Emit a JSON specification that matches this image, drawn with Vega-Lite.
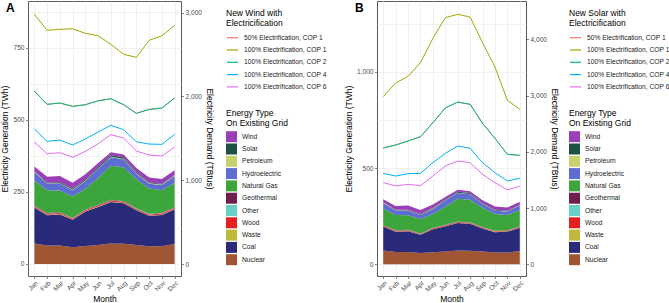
{
  "$schema": "https://vega.github.io/schema/vega-lite/v6.json",
  "padding": 0,
  "background": "white",
  "config": {
    "font": "Liberation Sans",
    "view": {"stroke": "#5a5a5a", "strokeWidth": 1},
    "axis": {
      "labelFont": "Liberation Sans", "labelFontSize": 6.6, "labelColor": "#4D4D4D",
      "titleFont": "Liberation Sans", "titleFontSize": 8.5, "titleFontWeight": "normal", "titleColor": "#000",
      "tickColor": "#333", "tickSize": 2.5, "tickWidth": 0.6, "domain": false,
      "gridColor": "#EBEBEB", "gridWidth": 0.7, "labelPadding": 1.5, "titlePadding": 3
    },
    "legend": {
      "labelFont": "Liberation Sans", "labelFontSize": 6.7, "labelColor": "#1a1a1a", "labelOffset": 5,
      "titleFont": "Liberation Sans", "titleFontSize": 8.5, "titleFontWeight": "normal", "titleColor": "#000",
      "titleLineHeight": 9.7, "titlePadding": 4, "rowPadding": 1.3, "symbolSize": 121
    },
    "concat": {"spacing": 15}
  },
  "datasets": {
    "grid": [
      {"month":"Jan","type":"Nuclear","twh":71},{"month":"Jan","type":"Coal","twh":125},{"month":"Jan","type":"Waste","twh":1.5},{"month":"Jan","type":"Wood","twh":3.5},{"month":"Jan","type":"Other","twh":1},{"month":"Jan","type":"Geothermal","twh":1.5},{"month":"Jan","type":"Natural Gas","twh":86.5},{"month":"Jan","type":"Hydroelectric","twh":29},{"month":"Jan","type":"Petroleum","twh":2},{"month":"Jan","type":"Solar","twh":2},{"month":"Jan","type":"Wind","twh":15},
      {"month":"Feb","type":"Nuclear","twh":64},{"month":"Feb","type":"Coal","twh":105},{"month":"Feb","type":"Waste","twh":1.5},{"month":"Feb","type":"Wood","twh":3.5},{"month":"Feb","type":"Other","twh":1},{"month":"Feb","type":"Geothermal","twh":1.5},{"month":"Feb","type":"Natural Gas","twh":79.5},{"month":"Feb","type":"Hydroelectric","twh":23},{"month":"Feb","type":"Petroleum","twh":1.5},{"month":"Feb","type":"Solar","twh":2.5},{"month":"Feb","type":"Wind","twh":20},
      {"month":"Mar","type":"Nuclear","twh":64},{"month":"Mar","type":"Coal","twh":108},{"month":"Mar","type":"Waste","twh":1.5},{"month":"Mar","type":"Wood","twh":3.5},{"month":"Mar","type":"Other","twh":1},{"month":"Mar","type":"Geothermal","twh":1.5},{"month":"Mar","type":"Natural Gas","twh":75.5},{"month":"Mar","type":"Hydroelectric","twh":24},{"month":"Mar","type":"Petroleum","twh":1.5},{"month":"Mar","type":"Solar","twh":3.5},{"month":"Mar","type":"Wind","twh":21},
      {"month":"Apr","type":"Nuclear","twh":58},{"month":"Apr","type":"Coal","twh":95},{"month":"Apr","type":"Waste","twh":1.5},{"month":"Apr","type":"Wood","twh":3.5},{"month":"Apr","type":"Other","twh":1},{"month":"Apr","type":"Geothermal","twh":1.5},{"month":"Apr","type":"Natural Gas","twh":73.5},{"month":"Apr","type":"Hydroelectric","twh":22.5},{"month":"Apr","type":"Petroleum","twh":1.5},{"month":"Apr","type":"Solar","twh":4},{"month":"Apr","type":"Wind","twh":20},
      {"month":"May","type":"Nuclear","twh":62},{"month":"May","type":"Coal","twh":120},{"month":"May","type":"Waste","twh":1.5},{"month":"May","type":"Wood","twh":3.5},{"month":"May","type":"Other","twh":1},{"month":"May","type":"Geothermal","twh":1.5},{"month":"May","type":"Natural Gas","twh":71.5},{"month":"May","type":"Hydroelectric","twh":27},{"month":"May","type":"Petroleum","twh":1.5},{"month":"May","type":"Solar","twh":4.5},{"month":"May","type":"Wind","twh":17},
      {"month":"Jun","type":"Nuclear","twh":66},{"month":"Jun","type":"Coal","twh":132},{"month":"Jun","type":"Waste","twh":1.5},{"month":"Jun","type":"Wood","twh":3.5},{"month":"Jun","type":"Other","twh":1},{"month":"Jun","type":"Geothermal","twh":1.5},{"month":"Jun","type":"Natural Gas","twh":93.5},{"month":"Jun","type":"Hydroelectric","twh":32},{"month":"Jun","type":"Petroleum","twh":1.5},{"month":"Jun","type":"Solar","twh":4.5},{"month":"Jun","type":"Wind","twh":13},
      {"month":"Jul","type":"Nuclear","twh":71},{"month":"Jul","type":"Coal","twh":144},{"month":"Jul","type":"Waste","twh":1.5},{"month":"Jul","type":"Wood","twh":3.5},{"month":"Jul","type":"Other","twh":1},{"month":"Jul","type":"Geothermal","twh":1.5},{"month":"Jul","type":"Natural Gas","twh":118.5},{"month":"Jul","type":"Hydroelectric","twh":29.5},{"month":"Jul","type":"Petroleum","twh":2},{"month":"Jul","type":"Solar","twh":4.5},{"month":"Jul","type":"Wind","twh":11},
      {"month":"Aug","type":"Nuclear","twh":70},{"month":"Aug","type":"Coal","twh":141},{"month":"Aug","type":"Waste","twh":1.5},{"month":"Aug","type":"Wood","twh":3.5},{"month":"Aug","type":"Other","twh":1},{"month":"Aug","type":"Geothermal","twh":1.5},{"month":"Aug","type":"Natural Gas","twh":117.5},{"month":"Aug","type":"Hydroelectric","twh":27.5},{"month":"Aug","type":"Petroleum","twh":2},{"month":"Aug","type":"Solar","twh":4.5},{"month":"Aug","type":"Wind","twh":10},
      {"month":"Sep","type":"Nuclear","twh":66},{"month":"Sep","type":"Coal","twh":120},{"month":"Sep","type":"Waste","twh":1.5},{"month":"Sep","type":"Wood","twh":3.5},{"month":"Sep","type":"Other","twh":1},{"month":"Sep","type":"Geothermal","twh":1.5},{"month":"Sep","type":"Natural Gas","twh":100.5},{"month":"Sep","type":"Hydroelectric","twh":19.5},{"month":"Sep","type":"Petroleum","twh":1.5},{"month":"Sep","type":"Solar","twh":4},{"month":"Sep","type":"Wind","twh":14},
      {"month":"Oct","type":"Nuclear","twh":61},{"month":"Oct","type":"Coal","twh":106},{"month":"Oct","type":"Waste","twh":1.5},{"month":"Oct","type":"Wood","twh":3.5},{"month":"Oct","type":"Other","twh":1},{"month":"Oct","type":"Geothermal","twh":1.5},{"month":"Oct","type":"Natural Gas","twh":87.5},{"month":"Oct","type":"Hydroelectric","twh":16.5},{"month":"Oct","type":"Petroleum","twh":1.5},{"month":"Oct","type":"Solar","twh":3},{"month":"Oct","type":"Wind","twh":17},
      {"month":"Nov","type":"Nuclear","twh":61},{"month":"Nov","type":"Coal","twh":109},{"month":"Nov","type":"Waste","twh":1.5},{"month":"Nov","type":"Wood","twh":3.5},{"month":"Nov","type":"Other","twh":1},{"month":"Nov","type":"Geothermal","twh":1.5},{"month":"Nov","type":"Natural Gas","twh":78.5},{"month":"Nov","type":"Hydroelectric","twh":18},{"month":"Nov","type":"Petroleum","twh":1.5},{"month":"Nov","type":"Solar","twh":2.5},{"month":"Nov","type":"Wind","twh":17},
      {"month":"Dec","type":"Nuclear","twh":69},{"month":"Dec","type":"Coal","twh":121},{"month":"Dec","type":"Waste","twh":1.5},{"month":"Dec","type":"Wood","twh":3.5},{"month":"Dec","type":"Other","twh":1},{"month":"Dec","type":"Geothermal","twh":1.5},{"month":"Dec","type":"Natural Gas","twh":84.5},{"month":"Dec","type":"Hydroelectric","twh":23},{"month":"Dec","type":"Petroleum","twh":2},{"month":"Dec","type":"Solar","twh":2},{"month":"Dec","type":"Wind","twh":16}
    ],
    "wind": [
      {"month":"Jan","scenario":"50% Electrification, COP 1","tbtu":2065},{"month":"Feb","scenario":"50% Electrification, COP 1","tbtu":1906},{"month":"Mar","scenario":"50% Electrification, COP 1","tbtu":1922},{"month":"Apr","scenario":"50% Electrification, COP 1","tbtu":1882},{"month":"May","scenario":"50% Electrification, COP 1","tbtu":1902},{"month":"Jun","scenario":"50% Electrification, COP 1","tbtu":1949},{"month":"Jul","scenario":"50% Electrification, COP 1","tbtu":1973},{"month":"Aug","scenario":"50% Electrification, COP 1","tbtu":1902},{"month":"Sep","scenario":"50% Electrification, COP 1","tbtu":1799},{"month":"Oct","scenario":"50% Electrification, COP 1","tbtu":1846},{"month":"Nov","scenario":"50% Electrification, COP 1","tbtu":1862},{"month":"Dec","scenario":"50% Electrification, COP 1","tbtu":1982},
      {"month":"Jan","scenario":"100% Electrification, COP 1","tbtu":2981},{"month":"Feb","scenario":"100% Electrification, COP 1","tbtu":2790},{"month":"Mar","scenario":"100% Electrification, COP 1","tbtu":2802},{"month":"Apr","scenario":"100% Electrification, COP 1","tbtu":2809},{"month":"May","scenario":"100% Electrification, COP 1","tbtu":2754},{"month":"Jun","scenario":"100% Electrification, COP 1","tbtu":2725},{"month":"Jul","scenario":"100% Electrification, COP 1","tbtu":2622},{"month":"Aug","scenario":"100% Electrification, COP 1","tbtu":2503},{"month":"Sep","scenario":"100% Electrification, COP 1","tbtu":2467},{"month":"Oct","scenario":"100% Electrification, COP 1","tbtu":2670},{"month":"Nov","scenario":"100% Electrification, COP 1","tbtu":2725},{"month":"Dec","scenario":"100% Electrification, COP 1","tbtu":2849},
      {"month":"Jan","scenario":"100% Electrification, COP 2","tbtu":2065},{"month":"Feb","scenario":"100% Electrification, COP 2","tbtu":1906},{"month":"Mar","scenario":"100% Electrification, COP 2","tbtu":1922},{"month":"Apr","scenario":"100% Electrification, COP 2","tbtu":1882},{"month":"May","scenario":"100% Electrification, COP 2","tbtu":1902},{"month":"Jun","scenario":"100% Electrification, COP 2","tbtu":1949},{"month":"Jul","scenario":"100% Electrification, COP 2","tbtu":1973},{"month":"Aug","scenario":"100% Electrification, COP 2","tbtu":1902},{"month":"Sep","scenario":"100% Electrification, COP 2","tbtu":1799},{"month":"Oct","scenario":"100% Electrification, COP 2","tbtu":1846},{"month":"Nov","scenario":"100% Electrification, COP 2","tbtu":1862},{"month":"Dec","scenario":"100% Electrification, COP 2","tbtu":1982},
      {"month":"Jan","scenario":"100% Electrification, COP 4","tbtu":1612},{"month":"Feb","scenario":"100% Electrification, COP 4","tbtu":1465},{"month":"Mar","scenario":"100% Electrification, COP 4","tbtu":1480},{"month":"Apr","scenario":"100% Electrification, COP 4","tbtu":1421},{"month":"May","scenario":"100% Electrification, COP 4","tbtu":1492},{"month":"Jun","scenario":"100% Electrification, COP 4","tbtu":1576},{"month":"Jul","scenario":"100% Electrification, COP 4","tbtu":1656},{"month":"Aug","scenario":"100% Electrification, COP 4","tbtu":1603},{"month":"Sep","scenario":"100% Electrification, COP 4","tbtu":1460},{"month":"Oct","scenario":"100% Electrification, COP 4","tbtu":1432},{"month":"Nov","scenario":"100% Electrification, COP 4","tbtu":1429},{"month":"Dec","scenario":"100% Electrification, COP 4","tbtu":1548},
      {"month":"Jan","scenario":"100% Electrification, COP 6","tbtu":1456},{"month":"Feb","scenario":"100% Electrification, COP 6","tbtu":1317},{"month":"Mar","scenario":"100% Electrification, COP 6","tbtu":1329},{"month":"Apr","scenario":"100% Electrification, COP 6","tbtu":1274},{"month":"May","scenario":"100% Electrification, COP 6","tbtu":1345},{"month":"Jun","scenario":"100% Electrification, COP 6","tbtu":1436},{"month":"Jul","scenario":"100% Electrification, COP 6","tbtu":1544},{"month":"Aug","scenario":"100% Electrification, COP 6","tbtu":1504},{"month":"Sep","scenario":"100% Electrification, COP 6","tbtu":1349},{"month":"Oct","scenario":"100% Electrification, COP 6","tbtu":1301},{"month":"Nov","scenario":"100% Electrification, COP 6","tbtu":1289},{"month":"Dec","scenario":"100% Electrification, COP 6","tbtu":1397}
    ],
    "solar": [
      {"month":"Jan","scenario":"50% Electrification, COP 1","tbtu":2069},{"month":"Feb","scenario":"50% Electrification, COP 1","tbtu":2121},{"month":"Mar","scenario":"50% Electrification, COP 1","tbtu":2192},{"month":"Apr","scenario":"50% Electrification, COP 1","tbtu":2268},{"month":"May","scenario":"50% Electrification, COP 1","tbtu":2517},{"month":"Jun","scenario":"50% Electrification, COP 1","tbtu":2779},{"month":"Jul","scenario":"50% Electrification, COP 1","tbtu":2885},{"month":"Aug","scenario":"50% Electrification, COP 1","tbtu":2844},{"month":"Sep","scenario":"50% Electrification, COP 1","tbtu":2506},{"month":"Oct","scenario":"50% Electrification, COP 1","tbtu":2240},{"month":"Nov","scenario":"50% Electrification, COP 1","tbtu":1955},{"month":"Dec","scenario":"50% Electrification, COP 1","tbtu":1937},
      {"month":"Jan","scenario":"100% Electrification, COP 1","tbtu":2981},{"month":"Feb","scenario":"100% Electrification, COP 1","tbtu":3223},{"month":"Mar","scenario":"100% Electrification, COP 1","tbtu":3342},{"month":"Apr","scenario":"100% Electrification, COP 1","tbtu":3584},{"month":"May","scenario":"100% Electrification, COP 1","tbtu":4018},{"month":"Jun","scenario":"100% Electrification, COP 1","tbtu":4384},{"month":"Jul","scenario":"100% Electrification, COP 1","tbtu":4444},{"month":"Aug","scenario":"100% Electrification, COP 1","tbtu":4396},{"month":"Sep","scenario":"100% Electrification, COP 1","tbtu":3940},{"month":"Oct","scenario":"100% Electrification, COP 1","tbtu":3508},{"month":"Nov","scenario":"100% Electrification, COP 1","tbtu":2915},{"month":"Dec","scenario":"100% Electrification, COP 1","tbtu":2755},
      {"month":"Jan","scenario":"100% Electrification, COP 2","tbtu":2069},{"month":"Feb","scenario":"100% Electrification, COP 2","tbtu":2121},{"month":"Mar","scenario":"100% Electrification, COP 2","tbtu":2192},{"month":"Apr","scenario":"100% Electrification, COP 2","tbtu":2268},{"month":"May","scenario":"100% Electrification, COP 2","tbtu":2517},{"month":"Jun","scenario":"100% Electrification, COP 2","tbtu":2779},{"month":"Jul","scenario":"100% Electrification, COP 2","tbtu":2885},{"month":"Aug","scenario":"100% Electrification, COP 2","tbtu":2844},{"month":"Sep","scenario":"100% Electrification, COP 2","tbtu":2506},{"month":"Oct","scenario":"100% Electrification, COP 2","tbtu":2240},{"month":"Nov","scenario":"100% Electrification, COP 2","tbtu":1955},{"month":"Dec","scenario":"100% Electrification, COP 2","tbtu":1937},
      {"month":"Jan","scenario":"100% Electrification, COP 4","tbtu":1615},{"month":"Feb","scenario":"100% Electrification, COP 4","tbtu":1570},{"month":"Mar","scenario":"100% Electrification, COP 4","tbtu":1611},{"month":"Apr","scenario":"100% Electrification, COP 4","tbtu":1618},{"month":"May","scenario":"100% Electrification, COP 4","tbtu":1807},{"month":"Jun","scenario":"100% Electrification, COP 4","tbtu":1973},{"month":"Jul","scenario":"100% Electrification, COP 4","tbtu":2103},{"month":"Aug","scenario":"100% Electrification, COP 4","tbtu":2062},{"month":"Sep","scenario":"100% Electrification, COP 4","tbtu":1807},{"month":"Oct","scenario":"100% Electrification, COP 4","tbtu":1629},{"month":"Nov","scenario":"100% Electrification, COP 4","tbtu":1481},{"month":"Dec","scenario":"100% Electrification, COP 4","tbtu":1529},
      {"month":"Jan","scenario":"100% Electrification, COP 6","tbtu":1453},{"month":"Feb","scenario":"100% Electrification, COP 6","tbtu":1392},{"month":"Mar","scenario":"100% Electrification, COP 6","tbtu":1422},{"month":"Apr","scenario":"100% Electrification, COP 6","tbtu":1398},{"month":"May","scenario":"100% Electrification, COP 6","tbtu":1570},{"month":"Jun","scenario":"100% Electrification, COP 6","tbtu":1748},{"month":"Jul","scenario":"100% Electrification, COP 6","tbtu":1836},{"month":"Aug","scenario":"100% Electrification, COP 6","tbtu":1807},{"month":"Sep","scenario":"100% Electrification, COP 6","tbtu":1600},{"month":"Oct","scenario":"100% Electrification, COP 6","tbtu":1451},{"month":"Nov","scenario":"100% Electrification, COP 6","tbtu":1321},{"month":"Dec","scenario":"100% Electrification, COP 6","tbtu":1392}
    ]
  },
  "hconcat": [
    {
      "width": 153, "height": 275,
      "title": {"text": "A", "anchor": "start", "frame": "group", "offset": 0, "dx": -22, "dy": 14, "fontSize": 12, "fontWeight": "bold", "font": "Liberation Sans", "color": "#000"},
      "layer": [
        {
          "data": {"name": "grid"},
          "transform": [{"calculate": "indexof(['Nuclear','Coal','Waste','Wood','Other','Geothermal','Natural Gas','Hydroelectric','Petroleum','Solar','Wind'], datum.type)", "as": "stackOrder"}],
          "mark": {"type": "area"},
          "encoding": {
            "x": {"field": "month", "type": "ordinal", "sort": ["Jan","Feb","Mar","Apr","May","Jun","Jul","Aug","Sep","Oct","Nov","Dec"], "scale": {"type": "point", "padding": 0.5}, "axis": {"title": "Month", "grid": true, "labelAngle": -45, "labelAlign": "right", "labelBaseline": "top", "labelPadding": 1, "titlePadding": 2}},
            "y": {"field": "twh", "type": "quantitative", "stack": "zero", "scale": {"domain": [-42, 913], "nice": false, "zero": false}, "axis": {"title": "Electricity Generation (TWh)", "values": [0,125,250,375,500,625,750,875], "labelExpr": "datum.value % 250 === 0 ? format(datum.value, ',') : ''", "tickOpacity": {"condition": {"test": "datum.value % 250 !== 0", "value": 0}, "value": 1}, "grid": true}},
            "fill": {"field": "type", "type": "nominal", "scale": {"domain": ["Wind","Solar","Petroleum","Hydroelectric","Natural Gas","Geothermal","Other","Wood","Waste","Coal","Nuclear"], "range": ["#9B3FB8","#1C5244","#C9D16E","#5E6DD2","#3CA63C","#6E1F4E","#67CFC5","#E31F1F","#BEB83B","#2A2A7A","#A05535"]}, "legend": {"title": ["Energy Type", "On Existing Grid"], "orient": "none", "legendX": 198, "legendY": 108, "symbolType": "square", "symbolStrokeWidth": 0}},
            "order": {"field": "stackOrder", "type": "quantitative"}
          }
        },
        {
          "data": {"name": "wind"},
          "mark": {"type": "line", "strokeWidth": 1},
          "encoding": {
            "x": {"field": "month", "type": "ordinal", "sort": ["Jan","Feb","Mar","Apr","May","Jun","Jul","Aug","Sep","Oct","Nov","Dec"], "scale": {"type": "point", "padding": 0.5}, "axis": {"title": "Month", "grid": true, "labelAngle": -45, "labelAlign": "right", "labelBaseline": "top", "labelPadding": 1, "titlePadding": 2}},
            "y": {"field": "tbtu", "type": "quantitative", "scale": {"domain": [-143, 3140], "nice": false, "zero": false}, "axis": {"orient": "right", "title": "Electricity Demand (TBtus)", "values": [0,1000,2000,3000], "labelExpr": "format(datum.value, ',')", "grid": false}},
            "color": {"field": "scenario", "type": "nominal", "sort": null, "scale": {"domain": ["50% Electrification, COP 1","100% Electrification, COP 1","100% Electrification, COP 2","100% Electrification, COP 4","100% Electrification, COP 6"], "range": ["#F8766D","#A3A500","#00BF7D","#00B0F6","#E76BF3"]}, "legend": {"title": ["New Wind with", "Electricification"], "orient": "none", "legendX": 198, "legendY": 8, "symbolType": "stroke", "symbolStrokeWidth": 1.2}}
          }
        }
      ],
      "resolve": {"scale": {"y": "independent"}}
    },
    {
      "width": 149, "height": 275,
      "title": {"text": "B", "anchor": "start", "frame": "group", "offset": 0, "dx": -22, "dy": 14, "fontSize": 12, "fontWeight": "bold", "font": "Liberation Sans", "color": "#000"},
      "layer": [
        {
          "data": {"name": "grid"},
          "transform": [{"calculate": "indexof(['Nuclear','Coal','Waste','Wood','Other','Geothermal','Natural Gas','Hydroelectric','Petroleum','Solar','Wind'], datum.type)", "as": "stackOrder"}],
          "mark": {"type": "area"},
          "encoding": {
            "x": {"field": "month", "type": "ordinal", "sort": ["Jan","Feb","Mar","Apr","May","Jun","Jul","Aug","Sep","Oct","Nov","Dec"], "scale": {"type": "point", "padding": 0.5}, "axis": {"title": "Month", "grid": true, "labelAngle": -45, "labelAlign": "right", "labelBaseline": "top", "labelPadding": 1, "titlePadding": 2}},
            "y": {"field": "twh", "type": "quantitative", "stack": "zero", "scale": {"domain": [-61, 1369], "nice": false, "zero": false}, "axis": {"title": "Electricity Generation (TWh)", "values": [0,250,500,750,1000,1250], "labelExpr": "datum.value % 500 === 0 ? format(datum.value, ',') : ''", "tickOpacity": {"condition": {"test": "datum.value % 500 !== 0", "value": 0}, "value": 1}, "grid": true}},
            "fill": {"field": "type", "type": "nominal", "scale": {"domain": ["Wind","Solar","Petroleum","Hydroelectric","Natural Gas","Geothermal","Other","Wood","Waste","Coal","Nuclear"], "range": ["#9B3FB8","#1C5244","#C9D16E","#5E6DD2","#3CA63C","#6E1F4E","#67CFC5","#E31F1F","#BEB83B","#2A2A7A","#A05535"]}, "legend": {"title": ["Energy Type", "On Existing Grid"], "orient": "none", "legendX": 192, "legendY": 108, "symbolType": "square", "symbolStrokeWidth": 0}},
            "order": {"field": "stackOrder", "type": "quantitative"}
          }
        },
        {
          "data": {"name": "solar"},
          "mark": {"type": "line", "strokeWidth": 1},
          "encoding": {
            "x": {"field": "month", "type": "ordinal", "sort": ["Jan","Feb","Mar","Apr","May","Jun","Jul","Aug","Sep","Oct","Nov","Dec"], "scale": {"type": "point", "padding": 0.5}, "axis": {"title": "Month", "grid": true, "labelAngle": -45, "labelAlign": "right", "labelBaseline": "top", "labelPadding": 1, "titlePadding": 2}},
            "y": {"field": "tbtu", "type": "quantitative", "scale": {"domain": [-208, 4681], "nice": false, "zero": false}, "axis": {"orient": "right", "title": "Electricity Demand (TBtus)", "values": [0,1000,2000,3000,4000], "labelExpr": "format(datum.value, ',')", "grid": false}},
            "color": {"field": "scenario", "type": "nominal", "sort": null, "scale": {"domain": ["50% Electrification, COP 1","100% Electrification, COP 1","100% Electrification, COP 2","100% Electrification, COP 4","100% Electrification, COP 6"], "range": ["#F8766D","#A3A500","#00BF7D","#00B0F6","#E76BF3"]}, "legend": {"title": ["New Solar with", "Electricification"], "orient": "none", "legendX": 192, "legendY": 8, "symbolType": "stroke", "symbolStrokeWidth": 1.2}}
          }
        }
      ],
      "resolve": {"scale": {"y": "independent"}}
    }
  ],
  "resolve": {"scale": {"color": "independent", "fill": "independent"}, "legend": {"color": "independent", "fill": "independent"}}
}
